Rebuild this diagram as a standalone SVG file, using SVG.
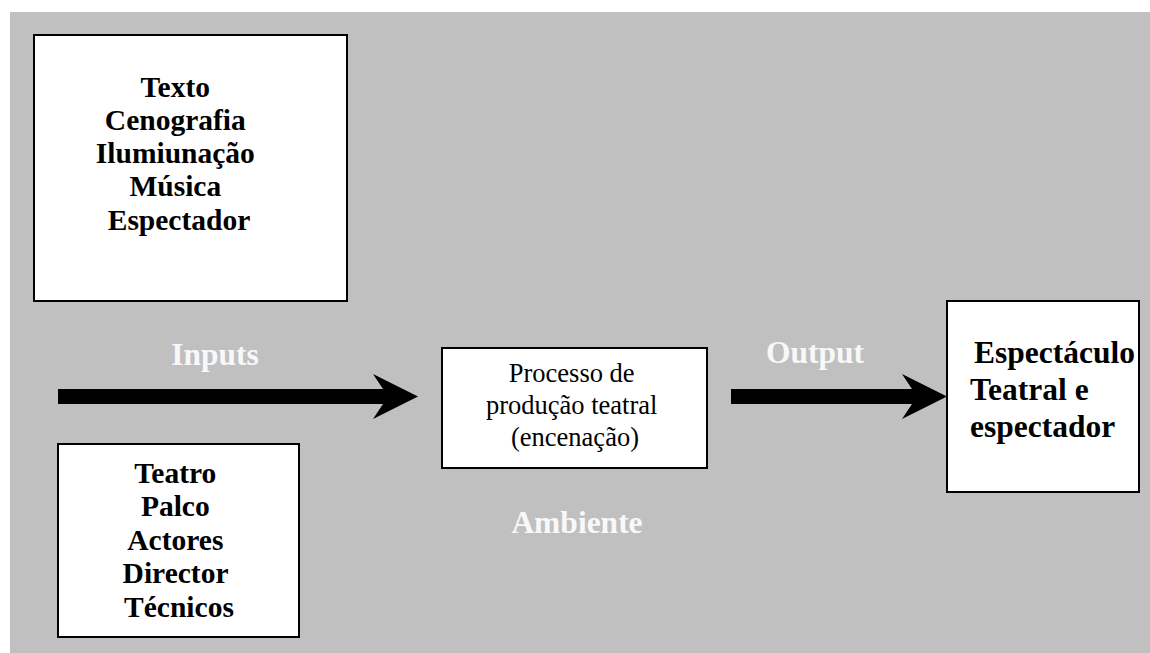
<svg xmlns="http://www.w3.org/2000/svg" width="1150" height="653" viewBox="0 0 1150 653">
  <style>
    .box { fill: #ffffff; stroke: #000000; stroke-width: 2; }
    .bold { font-family: "Liberation Serif", "Times New Roman", serif; font-weight: bold; fill: #000000; }
    .plain { font-family: "Liberation Serif", "Times New Roman", serif; font-size: 26.5px; fill: #000000; }
    .label { font-family: "Liberation Serif", "Times New Roman", serif; font-weight: bold; font-size: 31.5px; fill: #f8f8f8; }
    .arrow { fill: #000000; }
  </style>

  <!-- page -->
  <rect x="0" y="0" width="1150" height="653" fill="#ffffff"/>
  <rect x="10" y="12" width="1140" height="641" fill="#c0c0c0"/>

  <!-- input elements -->
  <g id="node-inputs-arte">
    <rect class="box" x="34" y="35" width="313" height="266"/>
    <text class="bold" font-size="29.5" text-anchor="middle">
      <tspan x="179" y="97">Texto</tspan>
      <tspan x="179" y="130">Cenografia</tspan>
      <tspan x="179" y="163">Ilumiunação</tspan>
      <tspan x="179" y="196">Música</tspan>
      <tspan x="179" y="230">Espectador</tspan>
    </text>
  </g>

  <g id="node-inputs-meios">
    <rect class="box" x="58" y="444" width="241" height="193"/>
    <text class="bold" font-size="29.5" text-anchor="middle">
      <tspan x="179" y="483">Teatro</tspan>
      <tspan x="179" y="516">Palco</tspan>
      <tspan x="179" y="550">Actores</tspan>
      <tspan x="179" y="583">Director</tspan>
      <tspan x="179" y="617">Técnicos</tspan>
    </text>
  </g>

  <!-- transformation process -->
  <g id="node-processo">
    <rect class="box" x="442" y="348" width="265" height="120"/>
    <text class="plain" text-anchor="middle">
      <tspan x="575" y="382">Processo de</tspan>
      <tspan x="575" y="414">produção teatral</tspan>
      <tspan x="575" y="446">(encenação)</tspan>
    </text>
  </g>

  <!-- result -->
  <g id="node-espectaculo">
    <rect class="box" x="947" y="301" width="192" height="191"/>
    <text class="bold" font-size="31.5">
      <tspan x="974" y="363">Espectáculo</tspan>
      <tspan x="970" y="400">Teatral e</tspan>
      <tspan x="970" y="437">espectador</tspan>
    </text>
  </g>

  <!-- flow arrows -->
  <g id="connectors">
    <polygon class="arrow" points="58,389 383,389 373,374 418,396.5 373,419 383,404 58,404"/>
    <polygon class="arrow" points="731,389 912,389 902,374 947,396.5 902,419 912,404 731,404"/>
  </g>

  <!-- stage labels -->
  <g id="labels">
    <text class="label" x="215" y="365" text-anchor="middle">Inputs</text>
    <text class="label" x="815" y="363" text-anchor="middle">Output</text>
    <text class="label" x="577" y="533" text-anchor="middle">Ambiente</text>
  </g>
</svg>
